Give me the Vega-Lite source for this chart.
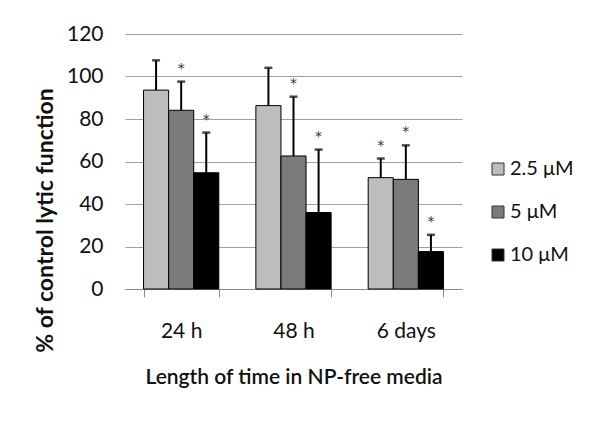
{
  "$schema": "https://vega.github.io/schema/vega-lite/v6.json",
  "width": 337,
  "height": 255,
  "autosize": {"type": "none"},
  "padding": {"left": 125, "top": 34, "right": 138, "bottom": 133},
  "background": "white",
  "config": {
    "font": "Lato",
    "view": {"stroke": null}
  },
  "data": {
    "values": [
      {"time": "24 h", "conc": "2.5 μM", "value": 93.6, "err": 107.6, "sig": false},
      {"time": "24 h", "conc": "5 μM", "value": 84.1, "err": 97.6, "sig": true},
      {"time": "24 h", "conc": "10 μM", "value": 54.7, "err": 73.6, "sig": true},
      {"time": "48 h", "conc": "2.5 μM", "value": 86.3, "err": 104.1, "sig": false},
      {"time": "48 h", "conc": "5 μM", "value": 62.6, "err": 90.5, "sig": true},
      {"time": "48 h", "conc": "10 μM", "value": 36.0, "err": 65.6, "sig": true},
      {"time": "6 days", "conc": "2.5 μM", "value": 52.4, "err": 61.4, "sig": true},
      {"time": "6 days", "conc": "5 μM", "value": 51.6, "err": 67.6, "sig": true},
      {"time": "6 days", "conc": "10 μM", "value": 17.6, "err": 25.5, "sig": true}
    ]
  },
  "encoding": {
    "x": {
      "field": "time",
      "type": "nominal",
      "sort": ["24 h", "48 h", "6 days"],
      "scale": {"paddingInner": 0.33, "paddingOuter": 0.165},
      "axis": {
        "title": "Length of time in NP-free media",
        "labelAngle": 0,
        "labelFontSize": 21,
        "labelColor": "#111",
        "labelPadding": 23,
        "labelBaseline": "top",
        "domainColor": "#888",
        "tickColor": "#888",
        "tickSize": 8,
        "tickBand": "extent",
        "grid": false,
        "titleFontSize": 21,
        "titleFontWeight": 600,
        "titleColor": "#111",
        "titleY": 88,
        "titleBaseline": "middle"
      }
    },
    "xOffset": {
      "field": "conc",
      "type": "nominal",
      "sort": ["2.5 μM", "5 μM", "10 μM"],
      "scale": {"paddingInner": 0, "paddingOuter": 0}
    }
  },
  "layer": [
    {
      "mark": {"type": "bar", "stroke": "#000", "strokeWidth": 1},
      "encoding": {
        "y": {
          "field": "value",
          "type": "quantitative",
          "scale": {"domain": [0, 120]},
          "axis": {
            "title": "% of control lytic function",
            "values": [0, 20, 40, 60, 80, 100, 120],
            "grid": true,
            "gridColor": "#a0a0a0",
            "domain": false,
            "ticks": false,
            "labelPadding": 22,
            "labelFontSize": 21,
            "labelColor": "#111",
            "titleFontSize": 23,
            "titleFontWeight": "bold",
            "titleColor": "#111",
            "titleX": -80,
            "titleY": 186,
            "titleAlign": "center",
            "titleBaseline": "middle",
            "titleAngle": 270
          }
        },
        "fill": {
          "field": "conc",
          "type": "nominal",
          "scale": {"domain": ["2.5 μM", "5 μM", "10 μM"], "range": ["#bdbdbd", "#7b7b7b", "#000000"]},
          "legend": {
            "title": null,
            "orient": "none",
            "legendX": 363,
            "legendY": 125,
            "padding": 0,
            "symbolType": "square",
            "symbolSize": 144,
            "symbolStrokeColor": "#333",
            "symbolStrokeWidth": 1,
            "labelFontSize": 20,
            "labelColor": "#111",
            "labelOffset": 2,
            "rowPadding": 23
          }
        }
      }
    },
    {
      "mark": {"type": "rule", "strokeWidth": 2, "color": "#000"},
      "encoding": {
        "y": {"field": "value", "type": "quantitative"},
        "y2": {"field": "err"}
      }
    },
    {
      "mark": {"type": "tick", "thickness": 2.5, "size": 8, "color": "#000"},
      "encoding": {
        "y": {"field": "err", "type": "quantitative"}
      }
    },
    {
      "transform": [{"filter": "datum.sig"}],
      "mark": {"type": "text", "dy": -13, "fontSize": 14, "font": "DejaVu Sans", "color": "#333", "baseline": "middle"},
      "encoding": {
        "y": {"field": "err", "type": "quantitative"},
        "text": {"value": "*"}
      }
    }
  ]
}
